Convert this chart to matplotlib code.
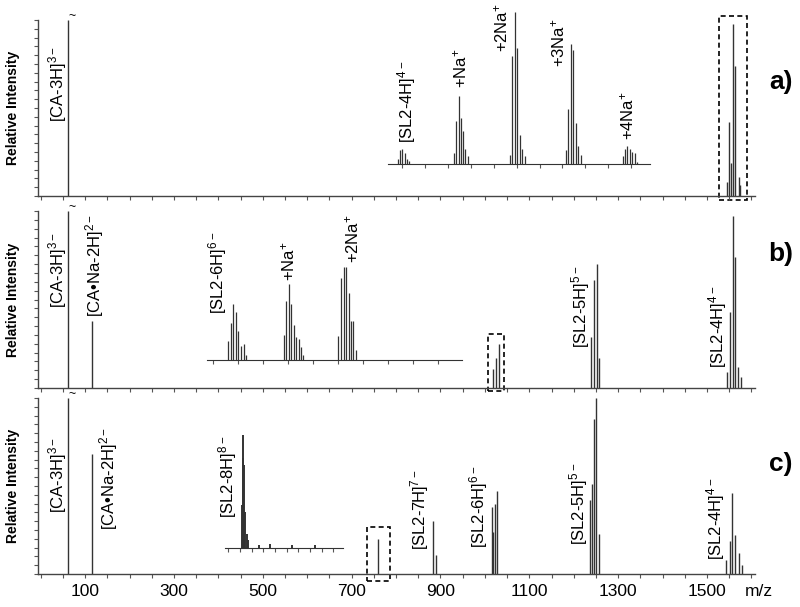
import numpy as np
import matplotlib
matplotlib.use("Agg")
import matplotlib.pyplot as plt
from matplotlib.patches import Rectangle

plt.rcParams['font.family'] = ['Liberation Sans', 'DejaVu Sans']
plt.rcParams['mathtext.fontset'] = 'custom'
plt.rcParams['mathtext.rm'] = 'Liberation Sans'
plt.rcParams['mathtext.it'] = 'Liberation Sans:italic'
plt.rcParams['mathtext.bf'] = 'Liberation Sans:bold'

# ---------------- data ----------------
a_mz = [62, 1545, 1550, 1554, 1558, 1564, 1571, 1575]
a_int = [1.0, 0.08, 0.42, 0.19, 0.98, 0.74, 0.11, 0.06]

b_mz = [62, 115, 1019, 1026, 1032, 1239, 1246, 1252, 1257,
        1545, 1552, 1558, 1564, 1570, 1577]
b_int = [1.0, 0.38, 0.11, 0.17, 0.25, 0.29, 0.61, 0.70, 0.17,
         0.09, 0.43, 0.97, 0.74, 0.12, 0.06]

c_mz = [62, 115, 759, 883, 889, 1016, 1019, 1023, 1028,
        1237, 1242, 1246, 1250, 1256,
        1543, 1551, 1557, 1564, 1571, 1579]
c_int = [1.0, 0.68, 0.20, 0.30, 0.11, 0.38, 0.24, 0.40, 0.47,
         0.42, 0.51, 0.88, 1.0, 0.23,
         0.08, 0.19, 0.46, 0.22, 0.12, 0.05]

# inset a: [SL2-4H]4- and its Na adducts
ia_mz = [1508.30, 1508.62, 1508.90, 1509.23, 1509.55, 1509.88,
         1516.05, 1516.33, 1516.66, 1516.98, 1517.31, 1517.59, 1517.91,
         1523.71, 1524.04, 1524.41, 1524.73, 1525.11, 1525.43, 1525.80,
         1531.47, 1531.74, 1532.07, 1532.39, 1532.77, 1533.09, 1533.46,
         1539.27, 1539.59, 1539.87, 1540.19, 1540.52, 1540.89, 1541.26]
ia_int = [0.03, 0.09, 0.10, 0.07, 0.03, 0.02,
          0.07, 0.28, 0.45, 0.30, 0.22, 0.10, 0.05,
          0.06, 0.71, 1.00, 0.76, 0.19, 0.10, 0.05,
          0.09, 0.36, 0.79, 0.75, 0.27, 0.12, 0.06,
          0.05, 0.10, 0.12, 0.10, 0.08, 0.07, 0.01]

# inset b: [SL2-6H]6- and its Na adducts
ib_mz = [997.70, 997.92, 998.14, 998.33, 998.54, 998.73, 998.95, 999.14,
         1002.16, 1002.35, 1002.54, 1002.75, 1002.94, 1003.16, 1003.35, 1003.54, 1003.73,
         1006.53, 1006.72, 1006.94, 1007.13, 1007.34, 1007.53, 1007.72, 1007.91]
ib_int = [0.20, 0.39, 0.59, 0.50, 0.30, 0.14, 0.17, 0.05,
          0.26, 0.62, 0.80, 0.59, 0.37, 0.24, 0.22, 0.13, 0.05,
          0.25, 0.86, 0.98, 0.98, 0.70, 0.41, 0.41, 0.10]

# inset c: [SL2-8H]8-
ic_mz = [742.74, 742.78, 742.81, 742.86, 742.90, 742.96, 743.03,
         743.50, 744.00, 744.96, 746.00]
ic_int = [0.38, 0.79, 1.00, 0.73, 0.32, 0.12, 0.07,
          0.02, 0.03, 0.02, 0.02]

xtick_vals = [100, 300, 500, 700, 900, 1100, 1300, 1500]
xtick_labels = ['100', '300', '500', '700', '900', '1100', '1300', '1500']

a_labels = [('[CA-3H]$^{\\mathregular{3-}}$', 39, 0.42)]
b_labels = [('[CA-3H]$^{\\mathregular{3-}}$', 39, 0.45),
            ('[CA\u2022Na-2H]$^{\\mathregular{2-}}$', 122, 0.40),
            ('[SL2-5H]$^{\\mathregular{5-}}$', 1215, 0.226),
            ('[SL2-4H]$^{\\mathregular{4-}}$', 1523, 0.113)]
c_labels = [('[CA-3H]$^{\\mathregular{3-}}$', 39, 0.347),
            ('[CA\u2022Na-2H]$^{\\mathregular{2-}}$', 152, 0.25),
            ('[SL2-7H]$^{\\mathregular{7-}}$', 854, 0.136),
            ('[SL2-6H]$^{\\mathregular{6-}}$', 985, 0.148),
            ('[SL2-5H]$^{\\mathregular{5-}}$', 1210, 0.165),
            ('[SL2-4H]$^{\\mathregular{4-}}$', 1519, 0.08)]
ia_labels = [('[SL2-4H]$^{\\mathregular{4-}}$', 1509.5, 0.14),
             ('+Na$^{\\mathregular{+}}$', 1516.9, 0.50),
             ('+2Na$^{\\mathregular{+}}$', 1522.5, 0.74),
             ('+3Na$^{\\mathregular{+}}$', 1530.4, 0.64),
             ('+4Na$^{\\mathregular{+}}$', 1539.9, 0.16)]
ib_labels = [('[SL2-6H]$^{\\mathregular{6-}}$', 996.9, 0.48),
             ('+Na$^{\\mathregular{+}}$', 1002.5, 0.83),
             ('+2Na$^{\\mathregular{+}}$', 1007.6, 1.02)]
ic_labels = [('[SL2-8H]$^{\\mathregular{8-}}$', 742.13, 0.26)]

boxes = {'a': (1528, 1589, -0.023, 1.02),
         'b': (1007, 1044, -0.017, 0.305),
         'c': (735, 787, -0.04, 0.267)}

# ---------------- figure ----------------
W, H = 800, 607
fig = plt.figure(figsize=(W / 100, H / 100), dpi=100)


def px_box(l, t, r, b):
    return [l / W, 1 - b / H, (r - l) / W, (b - t) / H]


PEAK = '#333333'
LBL = 12


def main_axes(rect, mz, inten, labels, box, show_xlabels=False):
    ax = fig.add_axes(px_box(*rect))
    ax.set_xlim(-6, 1608)
    ax.set_ylim(0, 1)
    ax.vlines(mz, 0, inten, color=PEAK, lw=1.0)
    for s in ('top', 'right'):
        ax.spines[s].set_visible(False)
    for s in ('left', 'bottom'):
        ax.spines[s].set_color('#444444')
        ax.spines[s].set_linewidth(1.0)
    ax.set_xticks(xtick_vals)
    ax.set_xticks(np.arange(0, 1601, 50), minor=True)
    if show_xlabels:
        ax.set_xticklabels(xtick_labels, fontsize=12.5)
    else:
        ax.set_xticklabels([])
    ax.set_yticks(np.arange(0, 1.001, 0.1))
    ax.set_yticks(np.arange(0, 1.001, 0.05), minor=True)
    ax.set_yticklabels([])
    ax.tick_params(axis='both', which='both', direction='out', length=3,
                   width=0.8, color='#555555', pad=4)
    ax.set_ylabel('Relative Intensity', fontsize=10, fontweight='bold',
                  labelpad=6)
    for txt, x, y in labels:
        ax.text(x, y, txt, rotation=90, ha='center', va='bottom',
                fontsize=LBL, clip_on=False)
    ax.annotate('~', xy=(62, 1.0), xytext=(2.5, 3), textcoords='offset points',
                ha='center', va='center', fontsize=9, annotation_clip=False)
    x0, x1, y0, y1 = box
    ax.add_patch(Rectangle((x0, y0), x1 - x0, y1 - y0, fill=False,
                           ls=(0, (3, 2)), lw=1.2, ec='black', clip_on=False))
    return ax


def inset_axes(rect, mz, inten, labels, xlim, ticks, lw=0.9):
    ax = fig.add_axes(px_box(*rect))
    ax.patch.set_alpha(0)
    ax.set_xlim(*xlim)
    ax.set_ylim(0, 1)
    ax.vlines(mz, 0, inten, color=PEAK, lw=lw)
    for s in ('top', 'right', 'left'):
        ax.spines[s].set_visible(False)
    ax.spines['bottom'].set_color('#333333')
    ax.set_yticks([])
    ax.set_xticks(ticks)
    ax.set_xticklabels([])
    ax.tick_params(axis='x', direction='out', length=3, width=0.8,
                   color='#555555')
    for txt, x, y in labels:
        ax.text(x, y, txt, rotation=90, ha='center', va='bottom',
                fontsize=LBL, clip_on=False)
    return ax


ax_a = main_axes((38, 20, 755, 196), a_mz, a_int, a_labels, boxes['a'])
ax_b = main_axes((38, 211, 755, 388), b_mz, b_int, b_labels, boxes['b'])
ax_c = main_axes((38, 398, 755, 574), c_mz, c_int, c_labels, boxes['c'],
                 show_xlabels=True)

inset_axes((388.4, 12, 650, 164), ia_mz, ia_int, ia_labels, (1507, 1543),
           np.arange(1508.9, 1543.2, 3.15))
inset_axes((206.7, 265, 462, 359.7), ib_mz, ib_int, ib_labels, (996, 1016.4),
           np.arange(996.5, 1016.5, 2.0))
inset_axes((225, 434.7, 343.3, 547.7), ic_mz, ic_int, ic_labels, (742, 747.23),
           np.arange(742.15, 747.25, 0.515), lw=1.4)

fig.text(759 / W, 1 - 592 / H, 'm/z', fontsize=12.5, ha='center', va='center')
for lab, y in (('a)', 82), ('b)', 254), ('c)', 464)):
    fig.text(781 / W, 1 - y / H, lab, fontsize=19, fontweight='bold',
             ha='center', va='center')

fig.savefig('out.png', dpi=100)
